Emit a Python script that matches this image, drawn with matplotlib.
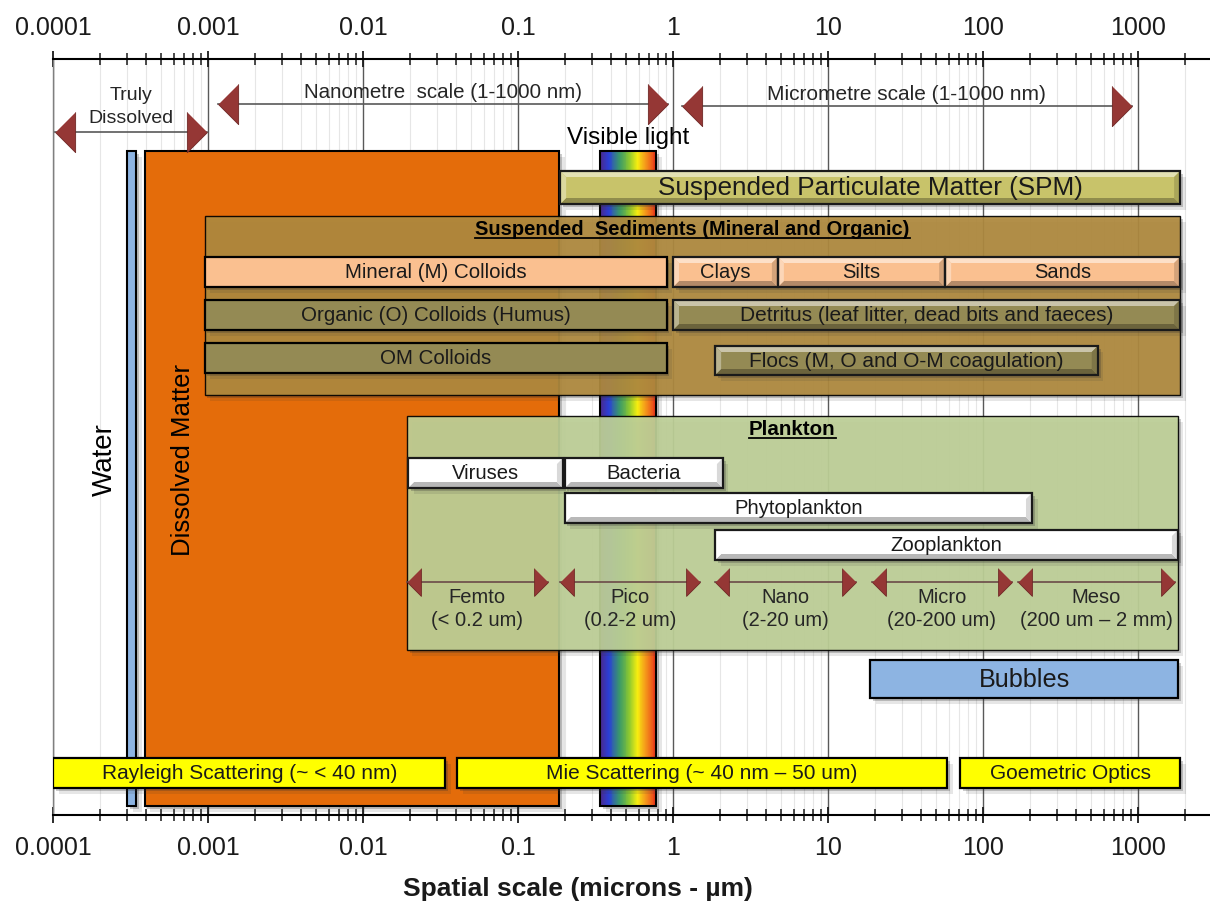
import numpy as np
import matplotlib
matplotlib.use('Agg')
import matplotlib.pyplot as plt
import matplotlib.patheffects as pe
from matplotlib.patches import Rectangle, Polygon
from matplotlib.colors import LinearSegmentedColormap, to_rgb
from matplotlib.ticker import LogLocator, NullFormatter

plt.rcParams['font.family'] = ['Liberation Sans', 'DejaVu Sans']

# axis ticks (microns)
tick_values = [1e-4, 1e-3, 1e-2, 1e-1, 1, 10, 100, 1000]
tick_labels = ['0.0001', '0.001', '0.01', '0.1', '1', '10', '100', '1000']

# size ranges in microns
water = (3.0e-4, 3.45e-4)
dissolved = (3.9e-4, 0.184)
visible = (0.34, 0.78)
spm = (0.187, 1870)

sediments = (9.5e-4, 1870)
colloid_names = ['Mineral (M) Colloids', 'Organic (O) Colloids (Humus)', 'OM Colloids']
colloid_ranges = [(9.5e-4, 0.91), (9.5e-4, 0.91), (9.5e-4, 0.91)]
grain_names = ['Clays', 'Silts', 'Sands']
grain_ranges = [(1.0, 4.75), (4.75, 57), (57, 1870)]
detritus = (1.0, 1870)
flocs = (1.87, 550)

plankton = (0.0192, 1810)
organism_names = ['Viruses', 'Bacteria', 'Phytoplankton', 'Zooplankton']
organism_ranges = [(0.0195, 0.195), (0.2, 2.1), (0.2, 207), (1.87, 1810)]
class_names = ['Femto\n(< 0.2 um)', 'Pico\n(0.2-2 um)', 'Nano\n(2-20 um)',
               'Micro\n(20-200 um)', 'Meso\n(200 um \u2013 2 mm)']
class_ranges = [(0.0192, 0.156), (0.187, 1.49), (1.87, 15.1), (19.2, 154), (168, 1733)]

bubbles = (18.7, 1810)
scatter_names = ['Rayleigh Scattering (~ < 40 nm)', 'Mie Scattering (~ 40 nm \u2013 50 um)',
                 'Goemetric Optics']
scatter_ranges = [(1.0e-4, 0.034), (0.0404, 58.6), (71, 1870)]

scale_names = ['Truly\nDissolved', 'Nanometre  scale (1-1000 nm)', 'Micrometre scale (1-1000 nm)']
scale_ranges = [(1.03e-4, 0.00099), (0.00116, 0.93), (1.14, 914)]

arrow_red = '#953735'
left_tip = [(0, 0), (2, -2), (2, 2)]
right_tip = [(0, 0), (-2, -2), (-2, 2)]
shadow = [pe.SimplePatchShadow(offset=(2, -2), shadow_rgbFace='0.2', alpha=0.25),
          pe.SimplePatchShadow(offset=(4, -4), shadow_rgbFace='0.2', alpha=0.12),
          pe.Normal()]

fig = plt.figure(figsize=(12.1, 9.04), dpi=100)
ax = fig.add_axes([53 / 1210, 88 / 904, 1157 / 1210, 756 / 904])
ax.set_xscale('log')
xmin, xmax = 1e-4, 10 ** (-4 + 1157 / 155)
ax.set_xlim(xmin, xmax)
ax.set_ylim(816, 60)
px_per_decade = 1157 / np.log10(xmax / xmin)


def mid(r):
    return np.sqrt(r[0] * r[1])


def shade(color, f):
    c = np.array(to_rgb(color))
    if f >= 0:
        return tuple(c + (1 - c) * f)
    return tuple(c * (1 + f))


def flat_bar(r, top, bot, color, z, label=None, size=14.5, lw=1.6, alpha=1.0):
    ax.add_patch(Rectangle((r[0], top), r[1] - r[0], bot - top, fc=color, ec='black',
                           lw=lw, alpha=alpha, zorder=z, path_effects=shadow))
    if label:
        ax.text(mid(r), (top + bot) / 2, label, ha='center', va='center',
                fontsize=size, color='#1a1a1a', zorder=z + 0.05)


def bevel_bar(r, top, bot, color, z, label=None, size=14.5, b=6):
    x0, x1 = r
    k = 10 ** (b / px_per_decade)
    ax.add_patch(Rectangle((x0, top), x1 - x0, bot - top, fc=color, ec='none',
                           zorder=z, path_effects=shadow))
    faces = [
        ([(x0, top), (x1, top), (x1 / k, top + b), (x0 * k, top + b)], shade(color, 0.5)),
        ([(x0, bot), (x1, bot), (x1 / k, bot - b), (x0 * k, bot - b)], shade(color, -0.28)),
        ([(x0, top), (x0 * k, top + b), (x0 * k, bot - b), (x0, bot)], shade(color, 0.35)),
        ([(x1, top), (x1 / k, top + b), (x1 / k, bot - b), (x1, bot)], shade(color, -0.15)),
    ]
    for verts, c in faces:
        ax.add_patch(Polygon(verts, closed=True, fc=c, ec='none', zorder=z + 0.01))
    ax.add_patch(Rectangle((x0, top), x1 - x0, bot - top, fc='none', ec='#1a1a1a',
                           lw=1.6, zorder=z + 0.02))
    if label:
        ax.text(mid(r), (top + bot) / 2, label, ha='center', va='center',
                fontsize=size, color='#1a1a1a', zorder=z + 0.05)


def span_arrow(r, y, ms, z, lc='#595959'):
    ax.plot(r, [y, y], color=lc, lw=1.2, zorder=z)
    ax.plot([r[0]], [y], marker=left_tip, ms=ms, mfc=arrow_red, mec='#6e2624',
            mew=0.6, ls='none', zorder=z + 0.01)
    ax.plot([r[1]], [y], marker=right_tip, ms=ms, mfc=arrow_red, mec='#6e2624',
            mew=0.6, ls='none', zorder=z + 0.01)


def underlined_title(x, y, s, size, z):
    t = ax.text(x, y, s, ha='center', va='center', fontsize=size,
                fontweight='bold', color='black', zorder=z)
    fig.canvas.draw()
    bb = t.get_window_extent(fig.canvas.get_renderer())
    inv = ax.transData.inverted()
    (xa, ya), (xb, _) = inv.transform([[bb.x0, bb.y0 + 1], [bb.x1, bb.y0 + 1]])
    ax.plot([xa, xb], [ya, ya], color='black', lw=1.3, zorder=z)


# scale arrows along the top
span_arrow(scale_ranges[0], 133, 29, 3)
ax.text(mid(scale_ranges[0]), 107, scale_names[0], ha='center', va='center',
        fontsize=14, color='#262626', linespacing=1.45)
span_arrow(scale_ranges[1], 105, 29, 3)
ax.text(mid(scale_ranges[1]), 93, scale_names[1], ha='center', va='center',
        fontsize=14.8, color='#262626')
span_arrow(scale_ranges[2], 107, 29, 3)
ax.text(mid(scale_ranges[2]), 95, scale_names[2], ha='center', va='center',
        fontsize=15, color='#262626')

# water, dissolved matter and visible light columns
flat_bar(water, 152, 807, '#8db4e2', 2, lw=1.5)
ax.text(2.15e-4, 460, 'Water', rotation=90, ha='center', va='center', fontsize=20)
flat_bar(dissolved, 152, 807, '#e46c0a', 2, lw=1.5)
ax.text(6.9e-4, 460, 'Dissolved Matter', rotation=90, ha='center', va='center', fontsize=18.5)

spectrum = LinearSegmentedColormap.from_list(
    'spectrum', [(0, '#4a2a8c'), (0.14, '#2a3ed8'), (0.34, '#3a9a68'), (0.52, '#8cc830'),
                 (0.66, '#f6ee10'), (0.8, '#f5a01a'), (1, '#e8341a')])
ax.add_patch(Rectangle((visible[0], 152), visible[1] - visible[0], 655, fc='white',
                       ec='none', zorder=2, path_effects=shadow))
edges = np.logspace(np.log10(visible[0]), np.log10(visible[1]), 61)
for i in range(60):
    ax.add_patch(Rectangle((edges[i], 152), edges[i + 1] - edges[i], 655,
                           fc=spectrum(i / 59), ec='none', zorder=2.01))
ax.add_patch(Rectangle((visible[0], 152), visible[1] - visible[0], 655, fc='none',
                       ec='black', lw=1.5, zorder=2.02))
ax.text(mid(visible), 138, 'Visible light', ha='center', va='center', fontsize=17.5)

# suspended particulate matter
bevel_bar(spm, 172, 205, '#c8c36a', 3, 'Suspended Particulate Matter (SPM)', size=18.8)

# suspended sediments
flat_bar(sediments, 217, 396, '#b08a3e', 3.5, lw=1.0, alpha=0.92)
underlined_title(mid(sediments), 230, 'Suspended  Sediments (Mineral and Organic)', 14.5, 3.6)
colloid_colors = ['#fac090', '#948a54', '#948a54']
for name, r, top, c in zip(colloid_names, colloid_ranges, [258, 301, 344], colloid_colors):
    flat_bar(r, top, top + 30, c, 4, name, size=14.8)
for name, r in zip(grain_names, grain_ranges):
    bevel_bar(r, 258, 288, '#fac090', 4, name, size=14.5)
bevel_bar(detritus, 301, 331, '#948a54', 4, 'Detritus (leaf litter, dead bits and faeces)', size=15)
bevel_bar(flocs, 347, 376, '#948a54', 4, 'Flocs (M, O and O-M coagulation)', size=15)

# plankton
flat_bar(plankton, 417, 651, '#bfd198', 3.5, lw=1.0, alpha=0.92)
underlined_title(mid(plankton), 430, 'Plankton', 14.8, 3.6)
for name, r, top in zip(organism_names, organism_ranges, [459, 459, 494, 531]):
    bevel_bar(r, top, top + 30, '#ffffff', 4, name, size=14.6)
for name, r in zip(class_names, class_ranges):
    span_arrow(r, 583, 20, 4.5, lc='#6b4a48')
    ax.text(mid(r), 609, name, ha='center', va='center', fontsize=14.5,
            color='#262626', linespacing=1.22, zorder=4.6)

# bubbles
flat_bar(bubbles, 661, 699, '#8db4e2', 4, 'Bubbles', size=18.2)

# optical scattering regimes
for name, r in zip(scatter_names, scatter_ranges):
    flat_bar(r, 759, 789, '#ffff00', 5, name, size=15)

# axes styling
ax.set_xticks(tick_values, tick_labels)
ax.xaxis.set_minor_locator(LogLocator(base=10, subs=np.arange(2, 10)))
ax.xaxis.set_minor_formatter(NullFormatter())
ax.tick_params(axis='x', which='both', top=True, labeltop=True, bottom=True,
               labelbottom=True, direction='inout', colors='#1a1a1a')
ax.tick_params(axis='x', which='major', length=11, width=1.3, labelsize=18, pad=9)
ax.tick_params(axis='x', which='minor', length=8, width=1.1)
ax.set_yticks([])
ax.grid(True, which='major', axis='x', color='#595959', lw=1.0)
ax.grid(True, which='minor', axis='x', color='#e6e6e6', lw=0.8)
ax.set_axisbelow(True)
ax.spines['right'].set_visible(False)
ax.spines['left'].set_color('#7f7f7f')
ax.spines['left'].set_linewidth(1.0)
ax.spines['top'].set_linewidth(1.5)
ax.spines['bottom'].set_linewidth(1.5)
ax.set_xlabel('Spatial scale (microns - \u00b5m)', fontsize=19, fontweight='bold',
              color='#1a1a1a')
ax.xaxis.set_label_coords(0.454, -0.081)

fig.savefig('out.png', dpi=100)
